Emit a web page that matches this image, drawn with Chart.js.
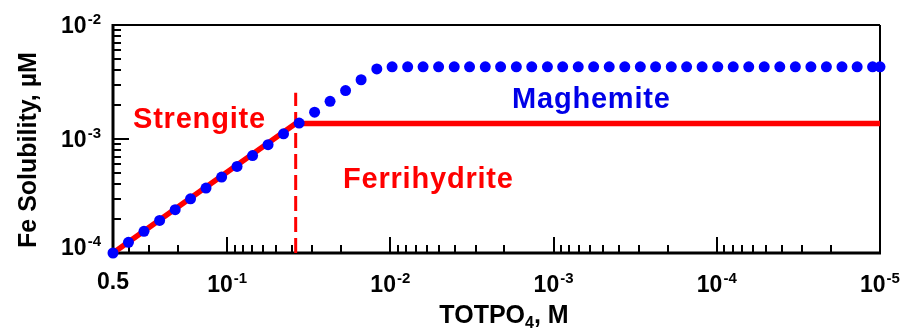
<!DOCTYPE html>
<html>
<head>
<meta charset="utf-8">
<script src="https://cdn.jsdelivr.net/npm/chart.js@4.4.1/dist/chart.umd.min.js"></script>
<style>
  html, body { margin: 0; padding: 0; background: #fff; }
  #wrap { width: 908px; height: 331px; }
</style>
</head>
<body>
<div id="wrap"><canvas id="chart" width="908" height="331"></canvas></div>
<script>
// total phosphate (M), shared x values of the maghemite curve
const totPO4 = [
  0.5, 0.402, 0.323, 0.259, 0.208, 0.1675, 0.1346, 0.108, 0.0869, 0.0698,
  0.0561, 0.0451, 0.0362, 0.0291, 0.0234, 0.0188, 0.0151, 0.0121, 0.00975, 0.00783,
  0.0063, 0.00506, 0.00406, 0.00327, 0.00262, 0.00211, 0.00169, 0.00136, 0.00109, 8.79e-4,
  7.06e-4, 5.68e-4, 4.56e-4, 3.66e-4, 2.94e-4, 2.37e-4, 1.9e-4, 1.53e-4, 1.23e-4, 9.86e-5,
  7.93e-5, 6.37e-5, 5.12e-5, 4.11e-5, 3.3e-5, 2.65e-5, 2.13e-5, 1.71e-5, 1.38e-5, 1.11e-5,
  1e-5
];
// Fe solubility controlled by maghemite
const maghemiteFe = [
  1.0e-4, 1.24e-4, 1.55e-4, 1.93e-4, 2.4e-4, 2.99e-4, 3.71e-4, 4.63e-4, 5.75e-4, 7.16e-4,
  8.91e-4, 1.11e-3, 1.38e-3, 1.72e-3, 2.14e-3, 2.66e-3, 3.31e-3, 4.12e-3, 4.3e-3, 4.3e-3,
  4.3e-3, 4.3e-3, 4.3e-3, 4.3e-3, 4.3e-3, 4.3e-3, 4.3e-3, 4.3e-3, 4.3e-3, 4.3e-3,
  4.3e-3, 4.3e-3, 4.3e-3, 4.3e-3, 4.3e-3, 4.3e-3, 4.3e-3, 4.3e-3, 4.3e-3, 4.3e-3,
  4.3e-3, 4.3e-3, 4.3e-3, 4.3e-3, 4.3e-3, 4.3e-3, 4.3e-3, 4.3e-3, 4.3e-3, 4.3e-3,
  4.3e-3
];
// strengite / ferrihydrite solubility line
const strengiteX = [0.5, 0.038, 1e-5];
const strengiteY = [1e-4, 1.37e-3, 1.37e-3];
// strengite-ferrihydrite boundary
const boundaryX = [0.038, 0.038];
const boundaryY = [1e-4, 2.55e-3];

const xTickValues = [0.5, 1e-1, 1e-2, 1e-3, 1e-4, 1e-5];
const xTickLabels = [['0.5', ''], ['10', '-1'], ['10', '-2'], ['10', '-3'], ['10', '-4'], ['10', '-5']];
const yTickValues = [1e-4, 1e-3, 1e-2];
const yTickLabels = [['10', '-4'], ['10', '-3'], ['10', '-2']];

const FONT = '"Liberation Sans", Arial, sans-serif';

function pts(xs, ys) {
  return xs.map((x, i) => ({ x: x, y: ys[i] }));
}

function powLabel(ctx, base, exp, x, y, align) {
  ctx.font = `bold 23px ${FONT}`;
  const wb = ctx.measureText(base).width;
  ctx.font = `bold 15px ${FONT}`;
  const we = exp ? ctx.measureText(exp).width + 1 : 0;
  const total = wb + we;
  const x0 = align === 'right' ? x - total : align === 'center' ? x - total / 2 : x;
  ctx.textAlign = 'left';
  ctx.textBaseline = 'alphabetic';
  ctx.fillStyle = '#000';
  ctx.font = `bold 23px ${FONT}`;
  ctx.fillText(base, x0, y);
  if (exp) {
    ctx.font = `bold 15px ${FONT}`;
    ctx.fillText(exp, x0 + wb + 1, y - 9);
  }
}

function seg(ctx, x1, y1, x2, y2) {
  ctx.beginPath();
  ctx.moveTo(x1, y1);
  ctx.lineTo(x2, y2);
  ctx.stroke();
}

const axesPlugin = {
  id: 'logAxes',
  beforeDatasetsDraw(chart) {
    const ctx = chart.ctx;
    const { left, right, top, bottom } = chart.chartArea;
    const xs = chart.scales.x, ys = chart.scales.y;
    ctx.save();
    ctx.strokeStyle = '#000';
    ctx.lineCap = 'butt';

    // top and right frame
    ctx.lineWidth = 2;
    seg(ctx, left, top, right, top);
    seg(ctx, right, top, right, bottom);

    // inward ticks, long at each decade
    ctx.lineWidth = 2;
    for (let e = -5; e <= -1; e++) {
      for (let m = 1; m <= 9; m++) {
        const v = m * Math.pow(10, e);
        if (v > 0.5 + 1e-9 || v <= 1e-5 * 1.0001) continue;
        const px = Math.round(xs.getPixelForValue(v));
        seg(ctx, px, bottom, px, bottom - (m === 1 ? 16 : 8));
      }
    }
    for (let e = -4; e <= -3; e++) {
      for (let m = 1; m <= 9; m++) {
        const v = m * Math.pow(10, e);
        if (v <= 1e-4 * 1.0001) continue;
        const py = Math.round(ys.getPixelForValue(v));
        seg(ctx, left, py, left + (m === 1 ? 16 : 8), py);
      }
    }

    // left and bottom axis lines
    ctx.lineWidth = 3;
    seg(ctx, left, top - 1, left, bottom + 1.5);
    seg(ctx, left - 1.5, bottom, right + 1, bottom);
    ctx.restore();
  },
  afterDraw(chart) {
    const ctx = chart.ctx;
    const { left, right, top, bottom } = chart.chartArea;
    const xs = chart.scales.x, ys = chart.scales.y;
    ctx.save();

    xTickValues.forEach((v, i) => {
      const px = xs.getPixelForValue(v);
      const lab = xTickLabels[i];
      powLabel(ctx, lab[0], lab[1], px, lab[1] ? bottom + 39 : bottom + 36, 'center');
    });
    yTickValues.forEach((v, i) => {
      const py = ys.getPixelForValue(v);
      const lab = yTickLabels[i];
      powLabel(ctx, lab[0], lab[1], left - 12, Math.min(py + 8, bottom + 2), 'right');
    });

    // x axis title with subscript
    ctx.fillStyle = '#000';
    ctx.textBaseline = 'alphabetic';
    ctx.textAlign = 'left';
    const big = `bold 25px ${FONT}`, small = `bold 16px ${FONT}`;
    ctx.font = big;
    const w1 = ctx.measureText('TOTPO').width;
    const w3 = ctx.measureText(', M').width;
    ctx.font = small;
    const w2 = ctx.measureText('4').width;
    const cx = 504;
    let x0 = cx - (w1 + w2 + w3) / 2;
    const by = 323;
    ctx.font = big;
    ctx.fillText('TOTPO', x0, by);
    ctx.font = small;
    ctx.fillText('4', x0 + w1, by + 5);
    ctx.font = big;
    ctx.fillText(', M', x0 + w1 + w2, by);

    // y axis title
    ctx.save();
    ctx.translate(36, 150);
    ctx.rotate(-Math.PI / 2);
    ctx.textAlign = 'center';
    ctx.font = big;
    ctx.fillText('Fe Solubility, \u00b5M', 0, 0);
    ctx.restore();

    // phase labels
    ctx.font = `bold 29px ${FONT}`;
    ctx.letterSpacing = '0.8px';
    ctx.textAlign = 'left';
    ctx.fillStyle = '#ff0000';
    ctx.fillText('Strengite', 133, 128);
    ctx.fillText('Ferrihydrite', 343, 188);
    ctx.fillStyle = '#0000e8';
    ctx.fillText('Maghemite', 512, 108);
    ctx.restore();
  }
};

new Chart(document.getElementById('chart'), {
  type: 'scatter',
  data: {
    datasets: [
      {
        label: 'Maghemite',
        data: pts(totPO4, maghemiteFe),
        showLine: false,
        pointRadius: 5.5,
        pointBackgroundColor: '#0000ff',
        pointBorderWidth: 0,
        order: 0,
        clip: false
      },
      {
        label: 'Strengite / Ferrihydrite',
        data: pts(strengiteX, strengiteY),
        showLine: true,
        borderColor: '#ff0000',
        borderWidth: 5.5,
        pointRadius: 0,
        order: 1,
        clip: false
      },
      {
        label: 'Boundary',
        data: pts(boundaryX, boundaryY),
        showLine: true,
        borderColor: '#ff0000',
        borderWidth: 3,
        borderDash: [15, 6],
        pointRadius: 0,
        order: 2,
        clip: false
      }
    ]
  },
  options: {
    responsive: false,
    devicePixelRatio: 1,
    animation: false,
    layout: { padding: { left: 113, right: 28, top: 25, bottom: 78 } },
    plugins: {
      legend: { display: false },
      tooltip: { enabled: false }
    },
    scales: {
      x: {
        type: 'logarithmic',
        reverse: true,
        min: 1e-5,
        max: 0.5,
        ticks: { display: false },
        grid: { display: false, drawTicks: false },
        border: { display: false },
        afterFit(scale) { scale.height = 0; }
      },
      y: {
        type: 'logarithmic',
        min: 1e-4,
        max: 1e-2,
        ticks: { display: false },
        grid: { display: false, drawTicks: false },
        border: { display: false },
        afterFit(scale) { scale.width = 0; }
      }
    }
  },
  plugins: [axesPlugin]
});
</script>
</body>
</html>
